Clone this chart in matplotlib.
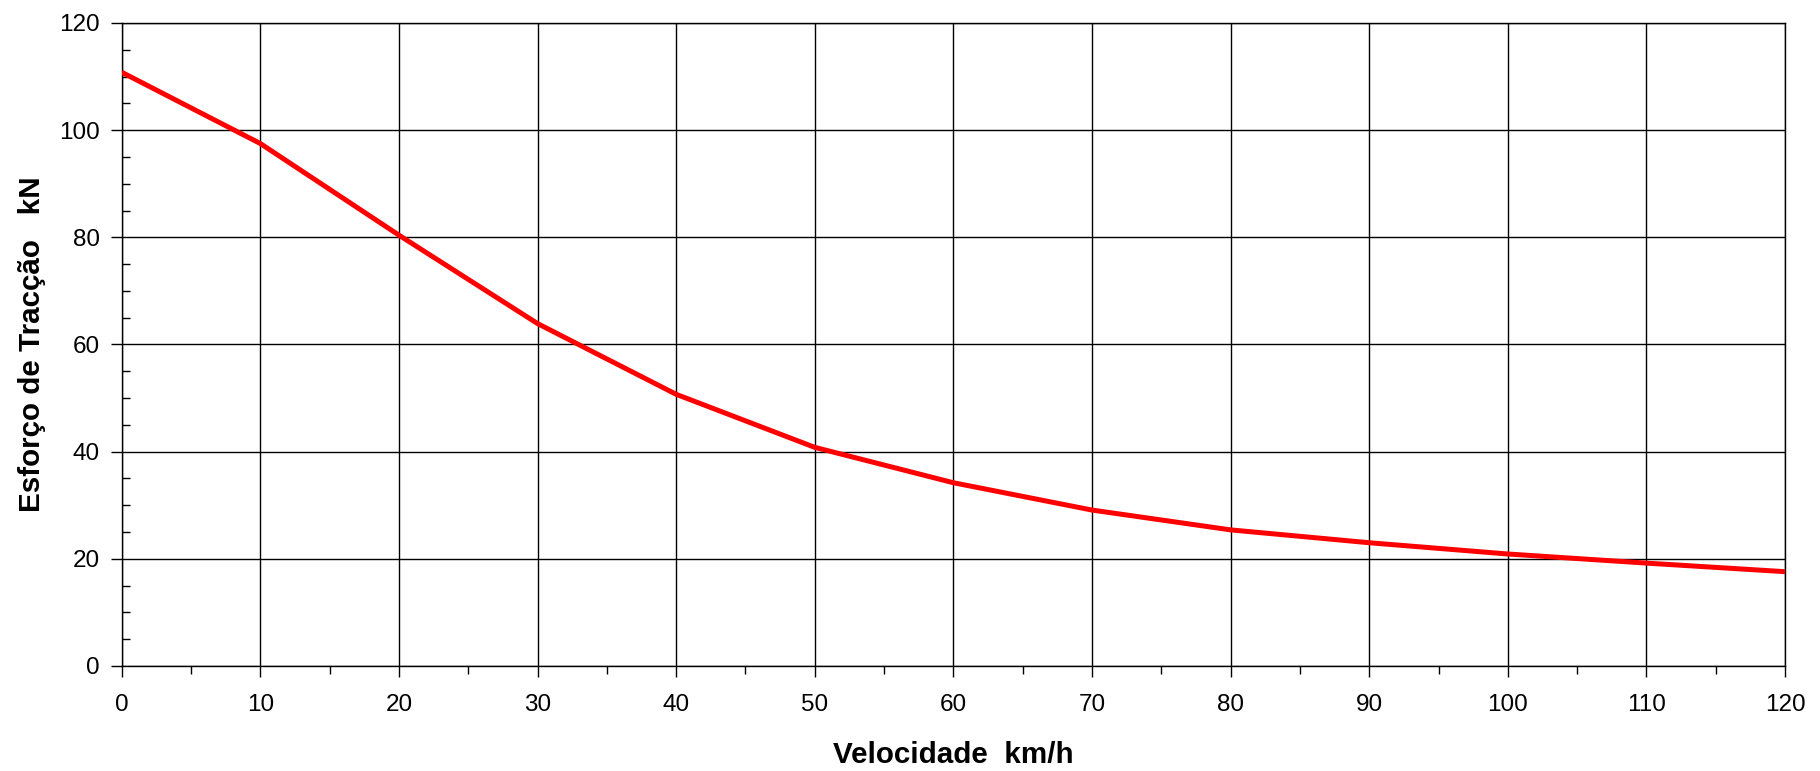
import numpy as np
import matplotlib
matplotlib.use('Agg')
import matplotlib.pyplot as plt
from matplotlib.ticker import MultipleLocator

plt.rcParams['font.family'] = ['Liberation Sans', 'DejaVu Sans']

# Traction effort curve
velocidade = [0, 10, 20, 30, 40, 50, 60, 70, 80, 90, 100, 110, 120]    # km/h
esforco = [110.8, 97.5, 80.4, 63.9, 50.7, 40.8, 34.2, 29.1, 25.4, 23.0, 20.9, 19.2, 17.6]    # kN

xlabel = 'Velocidade  km/h'
ylabel = 'Esforço de Tracção   kN'

fig = plt.figure(figsize=(18.2, 7.71), dpi=100)
ax = fig.add_axes([0.0669, 0.1362, 0.9139, 0.834])

ax.plot(velocidade, esforco, color='#ff0000', lw=3.6, solid_capstyle='butt', zorder=3)

ax.set_xlim(0, 120)
ax.set_ylim(0, 120)
ax.xaxis.set_major_locator(MultipleLocator(10))
ax.xaxis.set_minor_locator(MultipleLocator(5))
ax.yaxis.set_major_locator(MultipleLocator(20))
ax.yaxis.set_minor_locator(MultipleLocator(5))

ax.grid(True, which='major', color='black', lw=1.0)
for s in ax.spines.values():
    s.set_color('black')
    s.set_linewidth(1.0)

ax.tick_params(axis='both', which='major', direction='out', length=8, width=1,
               labelsize=17.5, color='black')
ax.tick_params(axis='x', which='minor', direction='out', length=6, width=1)
ax.tick_params(axis='y', which='minor', direction='in', length=6, width=1)
ax.tick_params(axis='x', which='major', pad=12)
ax.tick_params(axis='y', which='major', pad=8)

ax.set_xlabel(xlabel, fontsize=21.3, fontweight='bold', labelpad=18)
ax.set_ylabel(ylabel, fontsize=21.3, fontweight='bold', labelpad=9)

fig.savefig('out.png', dpi=100)
